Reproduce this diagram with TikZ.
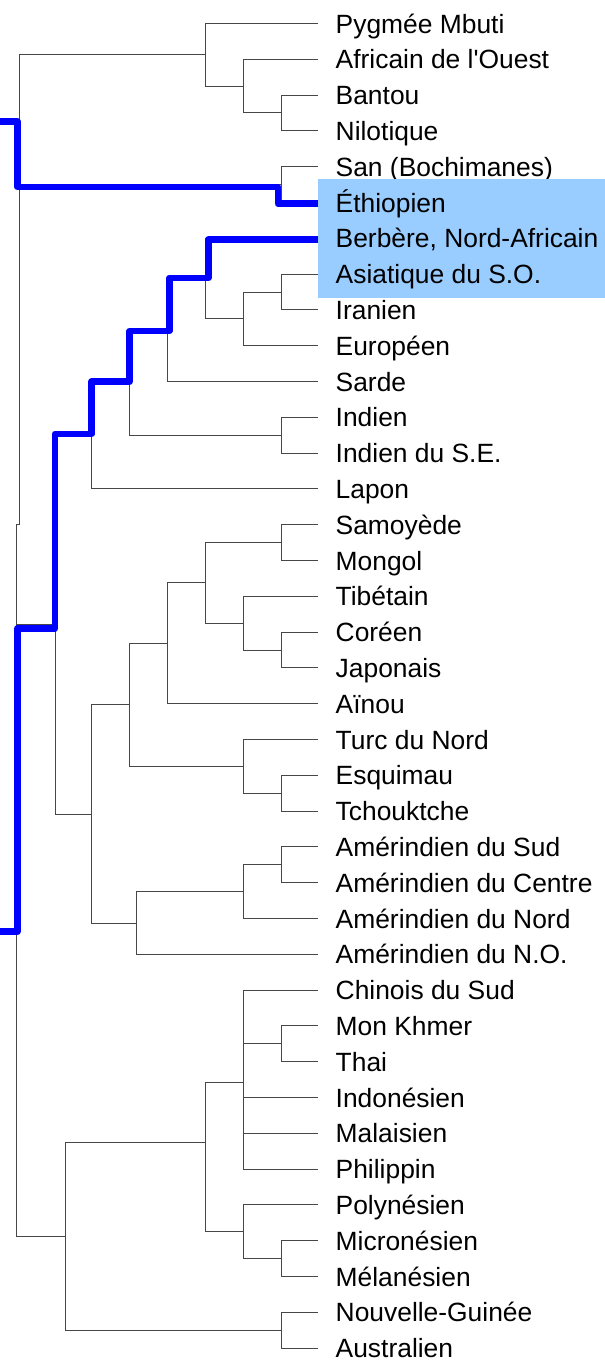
\documentclass[tikz,border=0pt]{standalone}
\usepackage{fontspec}
\newfontfamily\labfont{Liberation Sans}
\definecolor{hlbox}{RGB}{153,204,255}
\definecolor{pathblue}{RGB}{0,0,255}
\tikzset{
  br/.style={draw=black!72, line width=1bp},
  hi/.style={draw=pathblue, line width=6.5bp, line join=round},
  lab/.style={anchor=base west, inner sep=0pt, font=\labfont\fontsize{26.4bp}{30bp}\selectfont}
}
\begin{document}
\begin{tikzpicture}[x=1bp,y=-1bp]
\useasboundingbox (0,0) rectangle (605,1366);
% leaves
\foreach \i in {0,...,37} { \coordinate (L\i) at (318, 23.5+35.8*\i); }
% internal nodes
\coordinate (a3) at (281,113.0);
\coordinate (a2) at (243,86.2);
\coordinate (a1) at (205,54.8);
\coordinate (s1) at (281,184.6);
\coordinate (e4) at (281,292.0);
\coordinate (e3) at (243,318.9);
\coordinate (e2) at (205,278.6);
\coordinate (e1) at (167,330.0);
\coordinate (i1) at (281,435.2);
\coordinate (e0) at (129,382.6);
\coordinate (em) at (91,435.8);
\coordinate (k1) at (281,542.6);
\coordinate (k3) at (281,650.0);
\coordinate (k2) at (243,623.2);
\coordinate (k0) at (205,582.9);
\coordinate (k4) at (167,643.3);
\coordinate (t2) at (281,793.2);
\coordinate (t1) at (243,766.4);
\coordinate (k5) at (129,704.9);
\coordinate (m2) at (281,864.8);
\coordinate (m1) at (243,891.7);
\coordinate (m0) at (136,923.0);
\coordinate (k6) at (91,814.0);
\coordinate (ea) at (55,624.9);
\coordinate (s2) at (281,1043.8);
\coordinate (sb) at (243,1082.7);
\coordinate (p2) at (281,1258.6);
\coordinate (p1) at (243,1231.8);
\coordinate (s0) at (205,1142.7);
\coordinate (n1) at (281,1330.2);
\coordinate (oc) at (65,1236.5);
% root spine
\coordinate (r1) at (19,54.8);
\coordinate (r5) at (19,184.6);
\coordinate (r2) at (19,524.7);
\coordinate (r3) at (16,524.7);
\coordinate (r6) at (16,624.9);
\coordinate (r4) at (16,1236.5);
\draw[br] (r1) -- (r2) -- (r3) -- (r4);
\draw[br] (r1) -- (a1);
\draw[br] (r5) -- (s1);
\draw[br] (r6) -- (ea);
\draw[br] (r4) -- (oc);
% tree branches
\foreach \p/\c in {a3/L2,a3/L3,a2/L1,a2/a3,a1/L0,a1/a2,s1/L4,s1/L5,
  e4/L7,e4/L8,e3/e4,e3/L9,e2/L6,e2/e3,e1/e2,e1/L10,i1/L11,i1/L12,e0/e1,e0/i1,em/e0,em/L13,
  k1/L14,k1/L15,k3/L17,k3/L18,k2/L16,k2/k3,k0/k1,k0/k2,k4/k0,k4/L19,t2/L21,t2/L22,t1/L20,t1/t2,
  k5/k4,k5/t1,m2/L23,m2/L24,m1/m2,m1/L25,m0/m1,m0/L26,k6/k5,k6/m0,ea/em,ea/k6,
  s2/L28,s2/L29,sb/L27,sb/s2,sb/L30,sb/L31,sb/L32,p2/L34,p2/L35,p1/L33,p1/p2,s0/sb,s0/p1,
  n1/L36,n1/L37,oc/s0,oc/n1}
  { \draw[br] (\p) |- (\c); }
% highlighted paths
\coordinate (b1s) at (0,121.5);
\coordinate (b1e) at (318,203.7);
\draw[hi] (b1s) -- (17.5,121.5) -- (17.5,187) -- (278,187) -- (278,203.7) -- (b1e);
\coordinate (b2s) at (0,931.7);
\coordinate (b2e) at (318,239.3);
\draw[hi] (b2s) -- (17.3,931.7) -- (17.3,628.7) -- (55,628.7) -- (55,433.8) -- (91.7,433.8)
  -- (91.7,381.7) -- (129.7,381.7) -- (129.7,331) -- (169.3,331) -- (169.3,278)
  -- (208.3,278) -- (208.3,239.3) -- (b2e);
% labels
\foreach \i/\t in {0/Pygmée Mbuti,1/Africain de l'Ouest,2/Bantou,3/Nilotique,
  4/San (Bochimanes),8/Iranien,9/Européen,10/Sarde,11/Indien,12/Indien du S.E.,13/Lapon,
  14/Samoyède,15/Mongol,16/Tibétain,17/Coréen,18/Japonais,19/Aïnou,20/Turc du Nord,
  21/Esquimau,22/Tchouktche,23/Amérindien du Sud,24/Amérindien du Centre,
  25/Amérindien du Nord,26/Amérindien du N.O.,27/Chinois du Sud,28/Mon Khmer,29/Thai,
  30/Indonésien,31/Malaisien,32/Philippin,33/Polynésien,34/Micronésien,35/Mélanésien,
  36/Nouvelle-Guinée,37/Australien}
  { \node[lab] (T\i) at (335.5, 33.1+35.8*\i) {\t}; }
% highlight box
\fill[hlbox] (318.3,179) rectangle (605,298.3);
\foreach \i/\t in {5/Éthiopien,6/{Berbère, Nord-Africain},7/Asiatique du S.O.}
  { \node[lab] (T\i) at (335.5, 33.1+35.8*\i) {\t}; }
\end{tikzpicture}
\end{document}
